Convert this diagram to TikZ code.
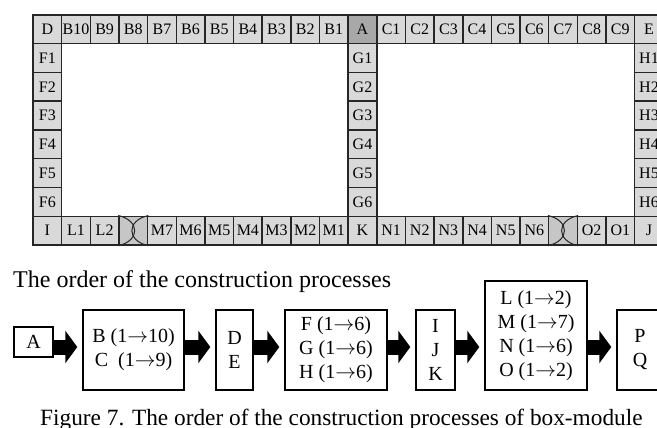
\documentclass[tikz,border=0pt]{standalone}
\usepackage{fontspec}
\setmainfont{Liberation Serif}
\usepackage{tikz}
\usetikzlibrary{arrows.meta}

\tikzset{
  cell/.style={draw=black!85, line width=1.5pt, fill=gray!30, minimum width=28.65pt,
    minimum height=28.75pt, inner sep=0pt, font=\fontsize{16}{16}\selectfont},
  start/.style={cell, fill=gray!68},
  joint/.style={cell, fill=gray!45},
  stage/.style={draw=black, line width=1.4pt, fill=white, align=center, inner sep=0pt,
    font=\fontsize{20}{24}\selectfont},
  flow/.style={line width=15pt, -{Triangle[length=12pt,width=32pt]}, shorten >=5pt},
  heading/.style={anchor=base west, inner sep=0pt, font=\fontsize{24}{28}\selectfont},
}
% column / row centres of the plan grid
\newcommand{\cx}[1]{33+28.65*(#1+0.5)}
\newcommand{\ry}[1]{15+28.75*(#1+0.5)}
\newcommand{\upto}{$\rightarrow$}

\begin{document}
\begin{tikzpicture}[x=1pt,y=-1pt]
\useasboundingbox (0,0) rectangle (657,428);
\clip (0,0) rectangle (657,428);

% top row
\node[cell] (d) at ({\cx{0}},{\ry{0}}) {D};
\foreach \i in {1,...,10} \node[cell] (b\i) at ({\cx{11-\i}},{\ry{0}}) {B\i};
\node[start] (a) at ({\cx{11}},{\ry{0}}) {A};
\foreach \i in {1,...,9} \node[cell] (c\i) at ({\cx{11+\i}},{\ry{0}}) {C\i};
\node[cell] (e) at ({\cx{21}},{\ry{0}}) {E};

% side columns
\foreach \i in {1,...,6} {
  \node[cell] (f\i) at ({\cx{0}},{\ry{\i}}) {F\i};
  \node[cell] (g\i) at ({\cx{11}},{\ry{\i}}) {G\i};
  \node[cell] (h\i) at ({\cx{21}},{\ry{\i}}) {H\i};
}

% bottom row
\node[cell] (i) at ({\cx{0}},{\ry{7}}) {I};
\node[cell] (l1) at ({\cx{1}},{\ry{7}}) {L1};
\node[cell] (l2) at ({\cx{2}},{\ry{7}}) {L2};
\node[joint] (j1) at ({\cx{3}},{\ry{7}}) {};
\foreach \i in {1,...,7} \node[cell] (m\i) at ({\cx{11-\i}},{\ry{7}}) {M\i};
\node[cell] (k) at ({\cx{11}},{\ry{7}}) {K};
\foreach \i in {1,...,6} \node[cell] (n\i) at ({\cx{11+\i}},{\ry{7}}) {N\i};
\node[joint] (j2) at ({\cx{18}},{\ry{7}}) {};
\node[cell] (o2) at ({\cx{19}},{\ry{7}}) {O2};
\node[cell] (o1) at ({\cx{20}},{\ry{7}}) {O1};
\node[cell] (j) at ({\cx{21}},{\ry{7}}) {J};

% crossed joints
\foreach \g in {j1,j2} {
  \draw[black!85, line width=1pt] (\g.north west) .. controls +(22,5) and +(22,-5) .. (\g.south west);
  \draw[black!85, line width=1pt] (\g.north east) .. controls +(-22,5) and +(-22,-5) .. (\g.south east);
}

\node[heading] (title) at (13,287) {The order of the construction processes};

% process chain
\coordinate (flow) at (0,347);
\node[stage, minimum width=39pt, minimum height=30pt] (pa) at (33.5,342) {A};
\node[stage, minimum width=101pt, minimum height=80pt] (pbc) at (133.5,350) {B (1\upto10)\\C\enspace(1\upto9)};
\node[stage, minimum width=37pt, minimum height=80pt] (pde) at (234.5,350) {D\\E};
\node[stage, minimum width=102pt, minimum height=80pt] (pfh) at (336,350) {F (1\upto6)\\G (1\upto6)\\H (1\upto6)};
\node[stage, minimum width=39pt, minimum height=80pt] (pik) at (435.5,350) {I\\J\\K};
\node[stage, minimum width=102pt, minimum height=109pt] (plo) at (536,335.5) {L (1\upto2)\\M (1\upto7)\\N (1\upto6)\\O (1\upto2)};
\node[stage, minimum width=46pt, minimum height=80pt] (ppq) at (640,350) {P\\Q};
\foreach \s/\t in {pa/pbc, pbc/pde, pde/pfh, pfh/pik, pik/plo, plo/ppq}
  \draw[flow] (\s.east|-flow) -- (\t.west|-flow);

\node[heading, font=\fontsize{23.3}{28}\selectfont] (caption) at (40,425) {Figure 7. The order of the construction processes of box-module};
\end{tikzpicture}
\end{document}
